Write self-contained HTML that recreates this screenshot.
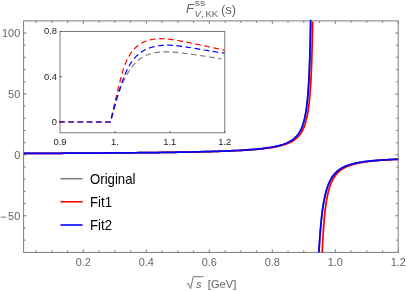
<!DOCTYPE html>
<html><head><meta charset="utf-8"><title>plot</title>
<style>
html,body{margin:0;padding:0;background:#fff;}
body{width:407px;height:292px;overflow:hidden;}
svg{display:block;will-change:transform;}
text{font-family:"Liberation Sans",sans-serif;}
</style></head><body>
<svg width="407" height="292" viewBox="0 0 407 292">
<rect width="407" height="292" fill="#fff"/>
<defs>
<clipPath id="cp"><rect x="23.6" y="21.7" width="374.59999999999997" height="230.7"/></clipPath>
<clipPath id="cpb"><rect x="23.6" y="19.7" width="374.59999999999997" height="232.9"/></clipPath>
</defs>
<!-- main frame -->
<g stroke="#7c7c7c" stroke-width="1" fill="none">
<rect x="23.6" y="20.9" width="374.59999999999997" height="231.5"/>
<line x1="36.05" y1="252.4" x2="36.05" y2="250.4"/><line x1="36.05" y1="20.9" x2="36.05" y2="22.9"/><line x1="51.80" y1="252.4" x2="51.80" y2="250.4"/><line x1="51.80" y1="20.9" x2="51.80" y2="22.9"/><line x1="67.55" y1="252.4" x2="67.55" y2="250.4"/><line x1="67.55" y1="20.9" x2="67.55" y2="22.9"/><line x1="83.30" y1="252.4" x2="83.30" y2="249.4"/><line x1="83.30" y1="20.9" x2="83.30" y2="23.9"/><line x1="99.05" y1="252.4" x2="99.05" y2="250.4"/><line x1="99.05" y1="20.9" x2="99.05" y2="22.9"/><line x1="114.80" y1="252.4" x2="114.80" y2="250.4"/><line x1="114.80" y1="20.9" x2="114.80" y2="22.9"/><line x1="130.55" y1="252.4" x2="130.55" y2="250.4"/><line x1="130.55" y1="20.9" x2="130.55" y2="22.9"/><line x1="146.30" y1="252.4" x2="146.30" y2="249.4"/><line x1="146.30" y1="20.9" x2="146.30" y2="23.9"/><line x1="162.05" y1="252.4" x2="162.05" y2="250.4"/><line x1="162.05" y1="20.9" x2="162.05" y2="22.9"/><line x1="177.80" y1="252.4" x2="177.80" y2="250.4"/><line x1="177.80" y1="20.9" x2="177.80" y2="22.9"/><line x1="193.55" y1="252.4" x2="193.55" y2="250.4"/><line x1="193.55" y1="20.9" x2="193.55" y2="22.9"/><line x1="209.30" y1="252.4" x2="209.30" y2="249.4"/><line x1="209.30" y1="20.9" x2="209.30" y2="23.9"/><line x1="225.05" y1="252.4" x2="225.05" y2="250.4"/><line x1="225.05" y1="20.9" x2="225.05" y2="22.9"/><line x1="240.80" y1="252.4" x2="240.80" y2="250.4"/><line x1="240.80" y1="20.9" x2="240.80" y2="22.9"/><line x1="256.55" y1="252.4" x2="256.55" y2="250.4"/><line x1="256.55" y1="20.9" x2="256.55" y2="22.9"/><line x1="272.30" y1="252.4" x2="272.30" y2="249.4"/><line x1="272.30" y1="20.9" x2="272.30" y2="23.9"/><line x1="288.05" y1="252.4" x2="288.05" y2="250.4"/><line x1="288.05" y1="20.9" x2="288.05" y2="22.9"/><line x1="303.80" y1="252.4" x2="303.80" y2="250.4"/><line x1="303.80" y1="20.9" x2="303.80" y2="22.9"/><line x1="319.55" y1="252.4" x2="319.55" y2="250.4"/><line x1="319.55" y1="20.9" x2="319.55" y2="22.9"/><line x1="335.30" y1="252.4" x2="335.30" y2="249.4"/><line x1="335.30" y1="20.9" x2="335.30" y2="23.9"/><line x1="351.05" y1="252.4" x2="351.05" y2="250.4"/><line x1="351.05" y1="20.9" x2="351.05" y2="22.9"/><line x1="366.80" y1="252.4" x2="366.80" y2="250.4"/><line x1="366.80" y1="20.9" x2="366.80" y2="22.9"/><line x1="382.55" y1="252.4" x2="382.55" y2="250.4"/><line x1="382.55" y1="20.9" x2="382.55" y2="22.9"/><line x1="398.30" y1="252.4" x2="398.30" y2="249.4"/><line x1="398.30" y1="20.9" x2="398.30" y2="23.9"/><line x1="23.6" y1="240.11" x2="25.6" y2="240.11"/><line x1="398.2" y1="240.11" x2="396.2" y2="240.11"/><line x1="23.6" y1="227.93" x2="25.6" y2="227.93"/><line x1="398.2" y1="227.93" x2="396.2" y2="227.93"/><line x1="23.6" y1="215.75" x2="26.6" y2="215.75"/><line x1="398.2" y1="215.75" x2="395.2" y2="215.75"/><line x1="23.6" y1="203.57" x2="25.6" y2="203.57"/><line x1="398.2" y1="203.57" x2="396.2" y2="203.57"/><line x1="23.6" y1="191.39" x2="25.6" y2="191.39"/><line x1="398.2" y1="191.39" x2="396.2" y2="191.39"/><line x1="23.6" y1="179.21" x2="25.6" y2="179.21"/><line x1="398.2" y1="179.21" x2="396.2" y2="179.21"/><line x1="23.6" y1="167.03" x2="25.6" y2="167.03"/><line x1="398.2" y1="167.03" x2="396.2" y2="167.03"/><line x1="23.6" y1="154.85" x2="26.6" y2="154.85"/><line x1="398.2" y1="154.85" x2="395.2" y2="154.85"/><line x1="23.6" y1="142.67" x2="25.6" y2="142.67"/><line x1="398.2" y1="142.67" x2="396.2" y2="142.67"/><line x1="23.6" y1="130.49" x2="25.6" y2="130.49"/><line x1="398.2" y1="130.49" x2="396.2" y2="130.49"/><line x1="23.6" y1="118.31" x2="25.6" y2="118.31"/><line x1="398.2" y1="118.31" x2="396.2" y2="118.31"/><line x1="23.6" y1="106.13" x2="25.6" y2="106.13"/><line x1="398.2" y1="106.13" x2="396.2" y2="106.13"/><line x1="23.6" y1="93.95" x2="26.6" y2="93.95"/><line x1="398.2" y1="93.95" x2="395.2" y2="93.95"/><line x1="23.6" y1="81.77" x2="25.6" y2="81.77"/><line x1="398.2" y1="81.77" x2="396.2" y2="81.77"/><line x1="23.6" y1="69.59" x2="25.6" y2="69.59"/><line x1="398.2" y1="69.59" x2="396.2" y2="69.59"/><line x1="23.6" y1="57.41" x2="25.6" y2="57.41"/><line x1="398.2" y1="57.41" x2="396.2" y2="57.41"/><line x1="23.6" y1="45.23" x2="25.6" y2="45.23"/><line x1="398.2" y1="45.23" x2="396.2" y2="45.23"/><line x1="23.6" y1="33.05" x2="26.6" y2="33.05"/><line x1="398.2" y1="33.05" x2="395.2" y2="33.05"/>
</g>
<!-- main curves -->
<g fill="none" stroke-width="1.75" stroke-linejoin="round">
<path d="M23.77,153.40 L29.15,153.38 L34.46,153.36 L39.70,153.34 L44.88,153.32 L50.00,153.29 L55.04,153.27 L60.02,153.25 L64.94,153.23 L69.79,153.20 L74.58,153.18 L79.30,153.15 L83.96,153.13 L88.56,153.10 L93.09,153.07 L97.56,153.04 L101.97,153.02 L106.32,152.99 L110.61,152.96 L114.84,152.92 L119.01,152.89 L123.12,152.86 L127.17,152.82 L131.16,152.79 L135.09,152.75 L138.96,152.72 L142.78,152.68 L146.54,152.64 L150.24,152.60 L153.89,152.56 L157.48,152.51 L161.02,152.47 L164.50,152.42 L167.93,152.37 L171.30,152.33 L174.62,152.28 L177.89,152.22 L181.10,152.17 L184.27,152.11 L187.38,152.06 L190.43,152.00 L193.44,151.94 L196.40,151.87 L199.31,151.81 L202.16,151.74 L204.97,151.67 L207.73,151.60 L210.44,151.52 L213.10,151.45 L215.72,151.37 L218.29,151.28 L220.81,151.20 L223.28,151.11 L225.71,151.02 L228.10,150.92 L230.44,150.82 L232.73,150.72 L234.98,150.61 L237.19,150.50 L239.35,150.38 L241.47,150.26 L243.55,150.14 L245.58,150.01 L247.58,149.88 L249.53,149.74 L251.45,149.59 L253.32,149.44 L255.15,149.28 L256.94,149.11 L258.70,148.94 L260.41,148.76 L262.09,148.58 L263.73,148.38 L265.33,148.18 L266.90,147.96 L268.43,147.74 L269.92,147.51 L271.38,147.27 L272.80,147.01 L274.19,146.75 L275.54,146.47 L276.86,146.18 L278.15,145.87 L279.40,145.55 L280.62,145.21 L281.81,144.86 L282.97,144.49 L284.10,144.10 L285.19,143.70 L286.26,143.27 L287.29,142.82 L288.30,142.34 L289.27,141.84 L290.22,141.32 L291.14,140.76 L292.03,140.18 L292.89,139.56 L293.73,138.91 L294.54,138.23 L295.32,137.50 L296.08,136.74 L296.81,135.93 L297.52,135.08 L298.21,134.18 L298.87,133.22 L299.50,132.21 L300.11,131.15 L300.71,130.02 L301.27,128.82 L301.82,127.56 L302.34,126.22 L302.85,124.80 L303.33,123.30 L303.79,121.71 L304.24,120.03 L304.66,118.25 L305.07,116.37 L305.45,114.39 L305.82,112.30 L306.17,110.09 L306.51,107.76 L306.83,105.31 L307.13,102.73 L307.41,100.03 L307.68,97.20 L307.94,94.24 L308.18,91.16 L308.40,87.96 L308.62,84.64 L308.82,81.21 L309.00,77.68 L309.18,74.07 L309.34,70.39 L309.49,66.65 L309.63,62.88 L309.76,59.10 L309.87,55.34 L309.98,51.62 L310.08,47.97 L310.17,44.42 L310.25,41.00 L310.33,37.73 L310.39,34.64 L310.45,31.75 L310.50,29.09 L310.55,26.66 L310.59,24.48 L310.62,22.54 L310.65,20.86 L310.67,19.43 L310.69,18.23 L310.71,17.26 L310.72,16.49 L310.73,15.90 L310.73,15.48 L310.74,15.20 L310.74,15.03 L310.74,14.94 L310.74,14.90 L310.74,14.90 M318.62,258.40 L318.62,258.40 L318.62,258.40 L318.62,258.39 L318.63,258.37 L318.63,258.35 L318.63,258.31 L318.63,258.26 L318.63,258.19 L318.64,258.10 L318.64,257.99 L318.65,257.86 L318.66,257.69 L318.67,257.50 L318.68,257.28 L318.69,257.03 L318.71,256.74 L318.72,256.42 L318.74,256.05 L318.76,255.65 L318.78,255.20 L318.81,254.71 L318.84,254.18 L318.87,253.60 L318.90,252.97 L318.93,252.30 L318.97,251.58 L319.01,250.81 L319.06,249.99 L319.11,249.13 L319.16,248.22 L319.21,247.26 L319.27,246.26 L319.34,245.21 L319.40,244.11 L319.47,242.98 L319.55,241.80 L319.63,240.59 L319.71,239.33 L319.80,238.04 L319.89,236.72 L319.99,235.37 L320.09,233.99 L320.20,232.58 L320.31,231.15 L320.43,229.70 L320.55,228.23 L320.68,226.75 L320.82,225.26 L320.96,223.75 L321.10,222.24 L321.25,220.73 L321.41,219.21 L321.58,217.70 L321.75,216.19 L321.92,214.68 L322.11,213.18 L322.29,211.70 L322.49,210.23 L322.69,208.77 L322.91,207.32 L323.12,205.90 L323.35,204.50 L323.58,203.11 L323.82,201.75 L324.07,200.42 L324.32,199.10 L324.59,197.82 L324.86,196.55 L325.14,195.32 L325.42,194.11 L325.72,192.93 L326.02,191.78 L326.33,190.66 L326.66,189.57 L326.99,188.50 L327.33,187.47 L327.67,186.46 L328.03,185.48 L328.40,184.53 L328.77,183.61 L329.16,182.72 L329.55,181.85 L329.96,181.01 L330.37,180.19 L330.80,179.40 L331.23,178.64 L331.68,177.90 L332.13,177.19 L332.60,176.50 L333.07,175.83 L333.56,175.19 L334.06,174.57 L334.57,173.97 L335.09,173.39 L335.62,172.83 L336.16,172.29 L336.71,171.77 L337.28,171.26 L337.86,170.78 L338.45,170.31 L339.05,169.86 L339.66,169.43 L340.28,169.01 L340.92,168.61 L341.57,168.22 L342.23,167.84 L342.91,167.48 L343.59,167.13 L344.29,166.80 L345.01,166.48 L345.73,166.17 L346.47,165.87 L347.22,165.58 L347.99,165.30 L348.77,165.03 L349.56,164.77 L350.37,164.52 L351.19,164.29 L352.03,164.05 L352.88,163.83 L353.74,163.62 L354.62,163.41 L355.51,163.21 L356.42,163.02 L357.34,162.83 L358.27,162.66 L359.23,162.48 L360.19,162.32 L361.17,162.16 L362.17,162.00 L363.18,161.86 L364.21,161.71 L365.26,161.57 L366.32,161.44 L367.39,161.31 L368.48,161.19 L369.59,161.07 L370.72,160.95 L371.86,160.84 L373.01,160.73 L374.19,160.63 L375.38,160.53 L376.59,160.43 L377.81,160.34 L379.05,160.25 L380.31,160.16 L381.59,160.08 L382.88,159.99 L384.19,159.92 L385.52,159.84 L386.87,159.77 L388.23,159.70 L389.62,159.63 L391.02,159.56 L392.44,159.50 L393.87,159.43 L395.33,159.37 L396.81,159.32 L398.30,159.26" stroke="#808080" clip-path="url(#cp)"/>
<path d="M23.77,153.40 L29.18,153.38 L34.53,153.36 L39.82,153.34 L45.03,153.32 L50.18,153.30 L55.26,153.28 L60.28,153.26 L65.23,153.23 L70.11,153.21 L74.93,153.19 L79.69,153.16 L84.38,153.14 L89.01,153.11 L93.58,153.08 L98.08,153.05 L102.52,153.03 L106.90,153.00 L111.22,152.97 L115.48,152.93 L119.68,152.90 L123.81,152.87 L127.89,152.84 L131.91,152.80 L135.87,152.76 L139.77,152.73 L143.62,152.69 L147.40,152.65 L151.13,152.61 L154.81,152.57 L158.42,152.53 L161.98,152.48 L165.49,152.44 L168.94,152.39 L172.34,152.34 L175.68,152.29 L178.97,152.24 L182.21,152.19 L185.39,152.13 L188.53,152.07 L191.61,152.01 L194.63,151.95 L197.61,151.89 L200.54,151.83 L203.42,151.76 L206.24,151.69 L209.02,151.62 L211.75,151.54 L214.43,151.47 L217.07,151.39 L219.65,151.31 L222.19,151.22 L224.69,151.13 L227.13,151.04 L229.53,150.94 L231.89,150.85 L234.20,150.74 L236.46,150.64 L238.69,150.53 L240.86,150.41 L243.00,150.29 L245.09,150.17 L247.14,150.04 L249.15,149.91 L251.12,149.77 L253.04,149.62 L254.93,149.47 L256.78,149.31 L258.58,149.15 L260.35,148.98 L262.08,148.80 L263.77,148.61 L265.42,148.42 L267.03,148.22 L268.61,148.01 L270.15,147.79 L271.65,147.56 L273.12,147.31 L274.55,147.06 L275.95,146.80 L277.31,146.52 L278.64,146.23 L279.94,145.93 L281.20,145.61 L282.43,145.27 L283.63,144.92 L284.79,144.56 L285.92,144.17 L287.03,143.76 L288.10,143.34 L289.14,142.89 L290.15,142.42 L291.14,141.92 L292.09,141.40 L293.02,140.85 L293.91,140.27 L294.78,139.65 L295.63,139.01 L296.44,138.33 L297.23,137.61 L297.99,136.85 L298.73,136.04 L299.45,135.19 L300.13,134.30 L300.80,133.35 L301.44,132.34 L302.06,131.28 L302.65,130.16 L303.22,128.97 L303.77,127.71 L304.30,126.37 L304.81,124.96 L305.30,123.47 L305.76,121.88 L306.21,120.21 L306.64,118.44 L307.04,116.57 L307.43,114.59 L307.80,112.50 L308.16,110.30 L308.49,107.97 L308.81,105.53 L309.12,102.96 L309.41,100.26 L309.68,97.44 L309.93,94.48 L310.18,91.40 L310.40,88.20 L310.62,84.88 L310.82,81.45 L311.01,77.92 L311.18,74.31 L311.34,70.62 L311.50,66.88 L311.64,63.10 L311.77,59.31 L311.88,55.54 L311.99,51.81 L312.09,48.15 L312.18,44.58 L312.27,41.15 L312.34,37.86 L312.41,34.76 L312.47,31.86 L312.52,29.18 L312.56,26.74 L312.60,24.54 L312.64,22.59 L312.66,20.90 L312.69,19.46 L312.71,18.25 L312.72,17.27 L312.73,16.50 L312.74,15.91 L312.75,15.49 L312.76,15.20 L312.76,15.03 L312.76,14.94 L312.76,14.90 L312.76,14.90 M321.95,258.40 L321.95,258.40 L321.95,258.40 L321.96,258.39 L321.96,258.37 L321.96,258.34 L321.96,258.29 L321.96,258.23 L321.96,258.14 L321.97,258.04 L321.97,257.90 L321.98,257.74 L321.99,257.54 L322.00,257.31 L322.01,257.04 L322.02,256.73 L322.03,256.38 L322.05,255.99 L322.07,255.55 L322.08,255.06 L322.11,254.52 L322.13,253.93 L322.16,253.29 L322.19,252.60 L322.22,251.86 L322.25,251.06 L322.29,250.21 L322.33,249.31 L322.37,248.35 L322.42,247.35 L322.47,246.29 L322.52,245.19 L322.58,244.03 L322.64,242.83 L322.70,241.59 L322.77,240.31 L322.84,238.99 L322.92,237.64 L323.00,236.25 L323.08,234.83 L323.17,233.38 L323.26,231.92 L323.36,230.43 L323.46,228.92 L323.57,227.40 L323.69,225.87 L323.80,224.33 L323.93,222.79 L324.06,221.25 L324.19,219.70 L324.33,218.16 L324.47,216.63 L324.63,215.11 L324.78,213.60 L324.95,212.10 L325.11,210.62 L325.29,209.16 L325.47,207.71 L325.66,206.29 L325.86,204.89 L326.06,203.51 L326.27,202.16 L326.48,200.84 L326.70,199.54 L326.93,198.27 L327.17,197.03 L327.41,195.81 L327.67,194.63 L327.93,193.47 L328.19,192.34 L328.47,191.24 L328.75,190.17 L329.04,189.13 L329.34,188.12 L329.65,187.14 L329.97,186.19 L330.29,185.26 L330.63,184.36 L330.97,183.49 L331.32,182.64 L331.68,181.82 L332.05,181.03 L332.43,180.26 L332.81,179.51 L333.21,178.79 L333.62,178.10 L334.04,177.42 L334.46,176.77 L334.90,176.13 L335.34,175.52 L335.80,174.93 L336.27,174.36 L336.74,173.81 L337.23,173.27 L337.73,172.75 L338.24,172.25 L338.76,171.77 L339.29,171.30 L339.83,170.85 L340.38,170.42 L340.95,170.00 L341.52,169.59 L342.11,169.19 L342.71,168.81 L343.32,168.45 L343.94,168.09 L344.58,167.75 L345.22,167.41 L345.88,167.09 L346.55,166.78 L347.23,166.48 L347.93,166.19 L348.64,165.91 L349.36,165.64 L350.09,165.38 L350.84,165.12 L351.60,164.88 L352.37,164.64 L353.16,164.41 L353.96,164.19 L354.77,163.97 L355.60,163.76 L356.44,163.56 L357.30,163.36 L358.17,163.18 L359.05,162.99 L359.95,162.81 L360.86,162.64 L361.79,162.48 L362.73,162.32 L363.68,162.16 L364.65,162.01 L365.64,161.86 L366.64,161.72 L367.65,161.58 L368.68,161.45 L369.73,161.32 L370.79,161.19 L371.87,161.07 L372.96,160.95 L374.07,160.84 L375.20,160.72 L376.34,160.62 L377.49,160.51 L378.67,160.41 L379.86,160.31 L381.06,160.21 L382.29,160.12 L383.53,160.03 L384.78,159.94 L386.06,159.86 L387.35,159.77 L388.65,159.69 L389.98,159.61 L391.32,159.54 L392.68,159.46 L394.06,159.39 L395.46,159.32 L396.87,159.25 L398.30,159.19" stroke="#ff0000" clip-path="url(#cp)"/>
<path d="M23.77,153.40 L29.15,153.38 L34.46,153.36 L39.70,153.34 L44.88,153.32 L50.00,153.29 L55.04,153.27 L60.02,153.25 L64.94,153.23 L69.79,153.20 L74.58,153.18 L79.30,153.15 L83.96,153.13 L88.56,153.10 L93.09,153.07 L97.56,153.04 L101.97,153.02 L106.32,152.99 L110.61,152.96 L114.84,152.92 L119.01,152.89 L123.12,152.86 L127.17,152.82 L131.16,152.79 L135.09,152.75 L138.96,152.72 L142.78,152.68 L146.54,152.64 L150.24,152.60 L153.89,152.56 L157.48,152.51 L161.02,152.47 L164.50,152.42 L167.93,152.37 L171.30,152.33 L174.62,152.28 L177.89,152.22 L181.10,152.17 L184.27,152.11 L187.38,152.06 L190.43,152.00 L193.44,151.94 L196.40,151.87 L199.31,151.81 L202.16,151.74 L204.97,151.67 L207.73,151.60 L210.44,151.52 L213.10,151.45 L215.72,151.37 L218.29,151.28 L220.81,151.20 L223.28,151.11 L225.71,151.02 L228.10,150.92 L230.44,150.82 L232.73,150.72 L234.98,150.61 L237.19,150.50 L239.35,150.38 L241.47,150.26 L243.55,150.14 L245.58,150.01 L247.58,149.88 L249.53,149.74 L251.45,149.59 L253.32,149.44 L255.15,149.28 L256.94,149.11 L258.70,148.94 L260.41,148.76 L262.09,148.58 L263.73,148.38 L265.33,148.18 L266.90,147.96 L268.43,147.74 L269.92,147.51 L271.38,147.27 L272.80,147.01 L274.19,146.75 L275.54,146.47 L276.86,146.18 L278.15,145.87 L279.40,145.55 L280.62,145.21 L281.81,144.86 L282.97,144.49 L284.10,144.10 L285.19,143.70 L286.26,143.27 L287.29,142.82 L288.30,142.34 L289.27,141.84 L290.22,141.32 L291.14,140.76 L292.03,140.18 L292.89,139.56 L293.73,138.91 L294.54,138.23 L295.32,137.50 L296.08,136.74 L296.81,135.93 L297.52,135.08 L298.21,134.18 L298.87,133.22 L299.50,132.21 L300.11,131.15 L300.71,130.02 L301.27,128.82 L301.82,127.56 L302.34,126.22 L302.85,124.80 L303.33,123.30 L303.79,121.71 L304.24,120.03 L304.66,118.25 L305.07,116.37 L305.45,114.39 L305.82,112.30 L306.17,110.09 L306.51,107.76 L306.83,105.31 L307.13,102.73 L307.41,100.03 L307.68,97.20 L307.94,94.24 L308.18,91.16 L308.40,87.96 L308.62,84.64 L308.82,81.21 L309.00,77.68 L309.18,74.07 L309.34,70.39 L309.49,66.65 L309.63,62.88 L309.76,59.10 L309.87,55.34 L309.98,51.62 L310.08,47.97 L310.17,44.42 L310.25,41.00 L310.33,37.73 L310.39,34.64 L310.45,31.75 L310.50,29.09 L310.55,26.66 L310.59,24.48 L310.62,22.54 L310.65,20.86 L310.67,19.43 L310.69,18.23 L310.71,17.26 L310.72,16.49 L310.73,15.90 L310.73,15.48 L310.74,15.20 L310.74,15.03 L310.74,14.94 L310.74,14.90 L310.74,14.90 M318.62,258.40 L318.62,258.40 L318.62,258.40 L318.62,258.39 L318.63,258.37 L318.63,258.35 L318.63,258.31 L318.63,258.26 L318.63,258.19 L318.64,258.10 L318.64,257.99 L318.65,257.86 L318.66,257.69 L318.67,257.50 L318.68,257.28 L318.69,257.03 L318.71,256.74 L318.72,256.42 L318.74,256.05 L318.76,255.65 L318.78,255.20 L318.81,254.71 L318.84,254.18 L318.87,253.60 L318.90,252.97 L318.93,252.30 L318.97,251.58 L319.01,250.81 L319.06,249.99 L319.11,249.13 L319.16,248.22 L319.21,247.26 L319.27,246.26 L319.34,245.21 L319.40,244.11 L319.47,242.98 L319.55,241.80 L319.63,240.59 L319.71,239.33 L319.80,238.04 L319.89,236.72 L319.99,235.37 L320.09,233.99 L320.20,232.58 L320.31,231.15 L320.43,229.70 L320.55,228.23 L320.68,226.75 L320.82,225.26 L320.96,223.75 L321.10,222.24 L321.25,220.73 L321.41,219.21 L321.58,217.70 L321.75,216.19 L321.92,214.68 L322.11,213.18 L322.29,211.70 L322.49,210.23 L322.69,208.77 L322.91,207.32 L323.12,205.90 L323.35,204.50 L323.58,203.11 L323.82,201.75 L324.07,200.42 L324.32,199.10 L324.59,197.82 L324.86,196.55 L325.14,195.32 L325.42,194.11 L325.72,192.93 L326.02,191.78 L326.33,190.66 L326.66,189.57 L326.99,188.50 L327.33,187.47 L327.67,186.46 L328.03,185.48 L328.40,184.53 L328.77,183.61 L329.16,182.72 L329.55,181.85 L329.96,181.01 L330.37,180.19 L330.80,179.40 L331.23,178.64 L331.68,177.90 L332.13,177.19 L332.60,176.50 L333.07,175.83 L333.56,175.19 L334.06,174.57 L334.57,173.97 L335.09,173.39 L335.62,172.83 L336.16,172.29 L336.71,171.77 L337.28,171.26 L337.86,170.78 L338.45,170.31 L339.05,169.86 L339.66,169.43 L340.28,169.01 L340.92,168.61 L341.57,168.22 L342.23,167.84 L342.91,167.48 L343.59,167.13 L344.29,166.80 L345.01,166.48 L345.73,166.17 L346.47,165.87 L347.22,165.58 L347.99,165.30 L348.77,165.03 L349.56,164.77 L350.37,164.52 L351.19,164.29 L352.03,164.05 L352.88,163.83 L353.74,163.62 L354.62,163.41 L355.51,163.21 L356.42,163.02 L357.34,162.83 L358.27,162.66 L359.23,162.48 L360.19,162.32 L361.17,162.16 L362.17,162.00 L363.18,161.86 L364.21,161.71 L365.26,161.57 L366.32,161.44 L367.39,161.31 L368.48,161.19 L369.59,161.07 L370.72,160.95 L371.86,160.84 L373.01,160.73 L374.19,160.63 L375.38,160.53 L376.59,160.43 L377.81,160.34 L379.05,160.25 L380.31,160.16 L381.59,160.08 L382.88,159.99 L384.19,159.92 L385.52,159.84 L386.87,159.77 L388.23,159.70 L389.62,159.63 L391.02,159.56 L392.44,159.50 L393.87,159.43 L395.33,159.37 L396.81,159.32 L398.30,159.26" stroke="#0000ff" clip-path="url(#cpb)"/>
</g>
<g font-size="10.5" fill="#666">
<text transform="translate(83.30,266.4) scale(1.04,1)" text-anchor="middle">0.2</text><text transform="translate(146.30,266.4) scale(1.04,1)" text-anchor="middle">0.4</text><text transform="translate(209.30,266.4) scale(1.04,1)" text-anchor="middle">0.6</text><text transform="translate(272.30,266.4) scale(1.04,1)" text-anchor="middle">0.8</text><text transform="translate(335.30,266.4) scale(1.04,1)" text-anchor="middle">1.0</text><text transform="translate(398.30,266.4) scale(1.04,1)" text-anchor="middle">1.2</text><rect x="0.6" y="216.70" width="5.4" height="0.9" stroke="none"/><text transform="translate(20.2,36.80) scale(1.04,1)" text-anchor="end">100</text><text transform="translate(20.2,97.70) scale(1.04,1)" text-anchor="end">50</text><text transform="translate(20.2,158.60) scale(1.04,1)" text-anchor="end">0</text><text transform="translate(20.2,219.50) scale(1.04,1)" text-anchor="end">50</text>
</g>
<!-- inset -->
<g stroke="#7c7c7c" stroke-width="1" fill="none">
<rect x="60.0" y="31.5" width="164.75" height="101.25" fill="#fff"/>
</g>
<g stroke="#555" stroke-width="1" fill="none">
<line x1="114.92" y1="132.75" x2="114.92" y2="130.95"/><line x1="169.83" y1="132.75" x2="169.83" y2="130.95"/><line x1="224.75" y1="132.75" x2="224.75" y2="130.95"/><line x1="60.0" y1="121.75" x2="61.9" y2="121.75"/><line x1="60.0" y1="76.62" x2="61.9" y2="76.62"/><line x1="60.0" y1="31.50" x2="61.9" y2="31.50"/>
</g>
<g fill="none" stroke-width="1.2" stroke-dasharray="5.7 3.5">
<path d="M59.10,122.00 L110.50,122.00 L110.50,122.00 L110.87,120.75 L111.23,119.51 L111.59,118.26 L111.94,117.01 L112.28,115.76 L112.63,114.52 L112.97,113.27 L113.31,112.02 L113.65,110.78 L113.99,109.53 L114.33,108.29 L114.67,107.04 L115.01,105.80 L115.36,104.56 L115.71,103.32 L116.07,102.08 L116.42,100.84 L116.79,99.60 L117.16,98.37 L117.54,97.13 L117.93,95.90 L118.33,94.67 L118.73,93.44 L119.15,92.21 L119.58,90.98 L120.02,89.76 L120.47,88.54 L120.94,87.32 L121.42,86.10 L121.92,84.88 L122.43,83.67 L122.96,82.46 L123.51,81.25 L124.07,80.05 L124.65,78.85 L125.26,77.66 L125.88,76.47 L126.51,75.30 L127.17,74.13 L127.85,72.98 L128.55,71.85 L129.27,70.73 L130.00,69.63 L130.76,68.55 L131.54,67.49 L132.34,66.46 L133.16,65.45 L134.00,64.47 L134.86,63.51 L135.75,62.59 L136.65,61.70 L137.58,60.85 L138.53,60.03 L139.51,59.25 L140.50,58.50 L141.52,57.80 L142.56,57.14 L143.63,56.53 L144.72,55.96 L145.83,55.43 L146.97,54.95 L148.12,54.51 L149.29,54.10 L150.48,53.74 L151.69,53.41 L152.92,53.12 L154.16,52.86 L155.41,52.64 L156.68,52.45 L157.96,52.29 L159.25,52.15 L160.55,52.05 L161.86,51.97 L163.18,51.91 L164.50,51.88 L165.83,51.87 L167.17,51.89 L168.51,51.92 L169.85,51.97 L171.20,52.04 L172.55,52.12 L173.89,52.22 L175.24,52.32 L176.58,52.45 L177.92,52.58 L179.26,52.72 L180.59,52.86 L181.92,53.02 L183.24,53.17 L184.55,53.33 L185.85,53.50 L187.14,53.66 L188.43,53.83 L189.71,54.00 L190.99,54.17 L192.26,54.35 L193.52,54.53 L194.78,54.71 L196.04,54.89 L197.29,55.07 L198.54,55.26 L199.80,55.45 L201.05,55.64 L202.30,55.83 L203.55,56.02 L204.80,56.22 L206.05,56.42 L207.31,56.62 L208.57,56.83 L209.84,57.04 L211.10,57.24 L212.38,57.46 L213.66,57.67 L214.95,57.88 L216.24,58.10 L217.54,58.32 L218.85,58.55 L220.17,58.77 L221.50,59.00" stroke="#808080"/>
<path d="M59.10,122.00 L110.50,122.00 L110.50,122.00 L110.79,120.56 L111.09,119.12 L111.38,117.69 L111.69,116.27 L111.99,114.85 L112.30,113.44 L112.61,112.03 L112.92,110.62 L113.24,109.22 L113.55,107.82 L113.87,106.43 L114.20,105.03 L114.52,103.64 L114.85,102.25 L115.18,100.86 L115.52,99.48 L115.85,98.09 L116.19,96.70 L116.53,95.31 L116.87,93.93 L117.22,92.54 L117.56,91.15 L117.91,89.76 L118.26,88.36 L118.61,86.97 L118.97,85.57 L119.32,84.16 L119.68,82.76 L120.04,81.35 L120.40,79.93 L120.77,78.51 L121.14,77.10 L121.52,75.68 L121.90,74.26 L122.30,72.85 L122.72,71.44 L123.15,70.03 L123.60,68.64 L124.06,67.25 L124.55,65.87 L125.06,64.51 L125.60,63.15 L126.17,61.81 L126.76,60.49 L127.39,59.18 L128.04,57.89 L128.74,56.62 L129.47,55.37 L130.24,54.14 L131.05,52.94 L131.90,51.77 L132.79,50.64 L133.73,49.54 L134.70,48.49 L135.72,47.48 L136.79,46.53 L137.89,45.63 L139.03,44.79 L140.21,44.00 L141.41,43.27 L142.64,42.60 L143.89,41.99 L145.17,41.44 L146.47,40.95 L147.78,40.51 L149.11,40.13 L150.47,39.79 L151.83,39.51 L153.22,39.27 L154.61,39.08 L156.02,38.93 L157.44,38.82 L158.88,38.75 L160.32,38.72 L161.77,38.72 L163.23,38.76 L164.70,38.83 L166.17,38.92 L167.64,39.05 L169.12,39.19 L170.61,39.37 L172.09,39.56 L173.57,39.77 L175.06,40.00 L176.54,40.24 L178.01,40.50 L179.49,40.76 L180.96,41.04 L182.42,41.32 L183.87,41.61 L185.32,41.90 L186.76,42.19 L188.19,42.48 L189.60,42.76 L191.01,43.05 L192.41,43.34 L193.80,43.62 L195.19,43.91 L196.57,44.19 L197.95,44.48 L199.32,44.76 L200.69,45.05 L202.06,45.33 L203.43,45.62 L204.81,45.91 L206.18,46.20 L207.55,46.50 L208.93,46.79 L210.31,47.09 L211.70,47.40 L213.10,47.70 L214.50,48.01 L215.91,48.32 L217.33,48.64 L218.76,48.96 L220.20,49.29 L221.65,49.62 L223.12,49.96 L224.60,50.30" stroke="#ff0000"/>
<path d="M59.10,122.00 L110.50,122.00 L110.50,122.00 L110.85,120.62 L111.19,119.24 L111.54,117.89 L111.89,116.54 L112.23,115.20 L112.58,113.87 L112.93,112.55 L113.27,111.24 L113.62,109.94 L113.97,108.64 L114.33,107.35 L114.68,106.06 L115.04,104.77 L115.40,103.49 L115.77,102.20 L116.13,100.92 L116.51,99.64 L116.88,98.35 L117.26,97.06 L117.65,95.77 L118.04,94.47 L118.44,93.17 L118.84,91.86 L119.25,90.55 L119.67,89.22 L120.09,87.89 L120.53,86.55 L120.97,85.21 L121.42,83.87 L121.88,82.53 L122.36,81.19 L122.84,79.85 L123.34,78.51 L123.85,77.18 L124.38,75.86 L124.93,74.55 L125.49,73.25 L126.06,71.96 L126.66,70.68 L127.28,69.42 L127.91,68.18 L128.57,66.95 L129.24,65.75 L129.94,64.57 L130.67,63.41 L131.41,62.28 L132.18,61.17 L132.98,60.09 L133.81,59.05 L134.66,58.03 L135.53,57.05 L136.44,56.10 L137.38,55.19 L138.35,54.32 L139.35,53.49 L140.38,52.70 L141.44,51.95 L142.54,51.24 L143.67,50.58 L144.83,49.96 L146.02,49.39 L147.24,48.85 L148.48,48.36 L149.74,47.91 L151.03,47.49 L152.33,47.11 L153.65,46.77 L154.99,46.46 L156.35,46.20 L157.71,45.96 L159.09,45.76 L160.47,45.59 L161.86,45.45 L163.26,45.35 L164.66,45.27 L166.07,45.23 L167.47,45.21 L168.87,45.22 L170.27,45.26 L171.66,45.32 L173.06,45.40 L174.45,45.51 L175.83,45.63 L177.22,45.78 L178.60,45.93 L179.97,46.10 L181.34,46.29 L182.71,46.48 L184.08,46.68 L185.44,46.88 L186.80,47.09 L188.16,47.30 L189.51,47.52 L190.86,47.74 L192.21,47.96 L193.56,48.18 L194.90,48.41 L196.24,48.63 L197.58,48.86 L198.92,49.09 L200.26,49.32 L201.60,49.54 L202.94,49.77 L204.28,50.00 L205.62,50.23 L206.96,50.45 L208.30,50.68 L209.64,50.90 L210.99,51.12 L212.34,51.34 L213.69,51.56 L215.04,51.77 L216.39,51.98 L217.75,52.18 L219.11,52.39 L220.48,52.58 L221.85,52.78 L223.22,52.96 L224.60,53.15" stroke="#0000ff"/>
</g>
<g font-size="9.4" fill="#1a1a1a">
<text x="60.00" y="145.2" text-anchor="middle">0.9</text><text x="114.92" y="145.2" text-anchor="middle">1.</text><text x="169.83" y="145.2" text-anchor="middle">1.1</text><text x="224.75" y="145.2" text-anchor="middle">1.2</text><text x="57" y="124.65" text-anchor="end">0</text><text x="57" y="79.53" text-anchor="end">0.4</text><text x="57" y="34.40" text-anchor="end">0.8</text>
</g>
<!-- legend -->
<g stroke-width="1.6" fill="none">
<line x1="60.5" y1="178.7" x2="82.5" y2="178.7" stroke="#808080"/>
<line x1="60.5" y1="201.8" x2="82.5" y2="201.8" stroke="#ff0000"/>
<line x1="60.5" y1="225.0" x2="82.5" y2="225.0" stroke="#0000ff"/>
</g>
<g font-size="13.2" fill="#000">
<text transform="translate(90,183.5) scale(1,1.06)">Original</text>
<text transform="translate(90,206.7) scale(1,1.06)">Fit1</text>
<text transform="translate(90,229.7) scale(1,1.06)">Fit2</text>
</g>
<!-- title -->
<g fill="#666">
<text x="186" y="13.4" font-size="13" font-style="italic">F</text>
<text x="194.8" y="6.2" font-size="9.5" transform="translate(194.8,0) scale(1.1,1) translate(-194.8,0)">ss</text>
<text x="194.6" y="16.9" font-size="9.6"><tspan font-style="italic">V</tspan>,<tspan dx="1.8">KK</tspan></text>
<text x="221.0" y="13.5" font-size="13">(s)</text>
</g>
<!-- x label -->
<g fill="#666">
<path d="M186.7,284.2 L188.3,283.4 L190.6,288.6 L193.2,276.7 L203.4,276.7" fill="none" stroke="#666" stroke-width="0.9"/>
<text x="196" y="287.5" font-size="11" font-style="italic">s</text>
<text x="207.8" y="287.6" font-size="11.2">[GeV]</text>
</g>
</svg>
</body></html>
